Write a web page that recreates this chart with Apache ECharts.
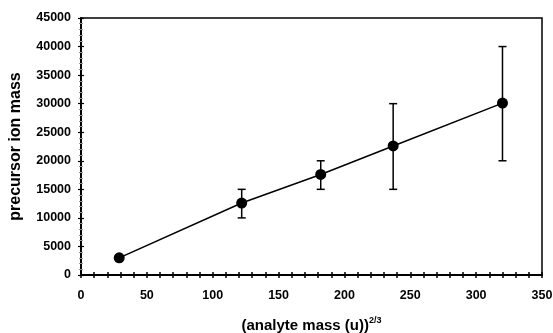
<!DOCTYPE html>
<html>
<head>
<meta charset="utf-8">
<script src="https://cdn.jsdelivr.net/npm/echarts@6/dist/echarts.min.js"></script>
<style>
  html, body { margin: 0; padding: 0; background: #fff; }
  #chart { width: 553px; height: 333px; }
</style>
</head>
<body>
<div id="chart"></div>
<script>
// analyte mass^(2/3) vs precursor ion mass
const xValues = [29, 122, 182, 237, 320];
const yValues = [3000, 12600, 17600, 22600, 30100];
const errLow = [null, 10000, 15000, 15000, 20000];
const errHigh = [null, 15000, 20000, 30000, 40000];

const FONT = '"Liberation Sans", Arial, sans-serif';

const points = xValues.map((x, i) => [x, yValues[i]]);
const bars = [];
xValues.forEach((x, i) => {
  if (errLow[i] != null) bars.push([x, errLow[i], errHigh[i]]);
});

const chart = echarts.init(document.getElementById('chart'));

const option = {
  animation: false,
  backgroundColor: '#fff',
  grid: {
    left: 81, right: 11, top: 18, bottom: 58,
    outerBoundsMode: 'none', containLabel: false,
    show: true, borderColor: '#000', borderWidth: 1.5
  },
  xAxis: [
    {
      type: 'value', min: 0, max: 350, interval: 10,
      name: '{a|(analyte mass (u))}{s|2/3}',
      nameLocation: 'middle', nameGap: 41,
      nameTextStyle: {
        rich: {
          a: { fontFamily: FONT, fontWeight: 'bold', fontSize: 15, color: '#000' },
          s: { fontFamily: FONT, fontWeight: 'bold', fontSize: 9, color: '#000', verticalAlign: 'top', padding: [0, 0, 10, 0] }
        }
      },
      axisLine: { lineStyle: { color: '#000', width: 2 } },
      axisTick: { show: true, length: 3, lineStyle: { color: '#000', width: 1.5 } },
      axisLabel: {
        margin: 14,
        fontFamily: FONT, fontWeight: 'bold', fontSize: 12.5, color: '#000',
        formatter: v => (v % 50 === 0 ? String(v) : '')
      },
      splitLine: { show: false }
    },
    {
      type: 'value', min: 0, max: 350, interval: 10, position: 'bottom',
      axisLine: { show: false },
      axisTick: { show: true, inside: true, length: 3, lineStyle: { color: '#000', width: 1.5 } },
      axisLabel: { show: false },
      splitLine: { show: false }
    }
  ],
  yAxis: [
    {
      type: 'value', min: 0, max: 45000, interval: 5000,
      name: 'precursor ion mass',
      nameLocation: 'middle', nameGap: 57,
      nameTextStyle: { fontFamily: FONT, fontWeight: 'bold', fontSize: 16, color: '#000' },
      axisLine: { lineStyle: { color: '#000', width: 2 } },
      axisTick: { show: true, length: 3, lineStyle: { color: '#000', width: 1.2 } },
      minorTick: { show: true, splitNumber: 5, length: 2, lineStyle: { color: '#999', width: 1 } },
      axisLabel: {
        margin: 10, fontFamily: FONT, fontWeight: 'bold', fontSize: 12.5, color: '#000',
        formatter: v => String(v)
      },
      splitLine: { show: false }
    },
    {
      type: 'value', min: 0, max: 45000, interval: 5000, position: 'left',
      axisLine: { show: false },
      axisTick: { show: true, inside: true, length: 3, lineStyle: { color: '#000', width: 1.2 } },
      minorTick: { show: true, splitNumber: 5, length: 2, lineStyle: { color: '#999', width: 1 } },
      axisLabel: { show: false },
      splitLine: { show: false }
    }
  ],
  series: [
    {
      type: 'line',
      data: points,
      xAxisIndex: 0, yAxisIndex: 0,
      symbol: 'circle', symbolSize: 11,
      itemStyle: { color: '#000' },
      lineStyle: { color: '#000', width: 1.5 },
      z: 3
    },
    {
      type: 'custom',
      xAxisIndex: 0, yAxisIndex: 0,
      data: bars,
      renderItem: function (params, api) {
        const x = api.value(0);
        const lo = api.coord([x, api.value(1)]);
        const hi = api.coord([x, api.value(2)]);
        const w = 4;
        const style = { stroke: '#000', lineWidth: 1.5 };
        return {
          type: 'group',
          children: [
            { type: 'line', shape: { x1: lo[0], y1: lo[1], x2: hi[0], y2: hi[1] }, style },
            { type: 'line', shape: { x1: lo[0] - w, y1: lo[1], x2: lo[0] + w, y2: lo[1] }, style },
            { type: 'line', shape: { x1: hi[0] - w, y1: hi[1], x2: hi[0] + w, y2: hi[1] }, style }
          ]
        };
      },
      z: 2
    }
  ]
};

chart.setOption(option);
</script>
</body>
</html>
